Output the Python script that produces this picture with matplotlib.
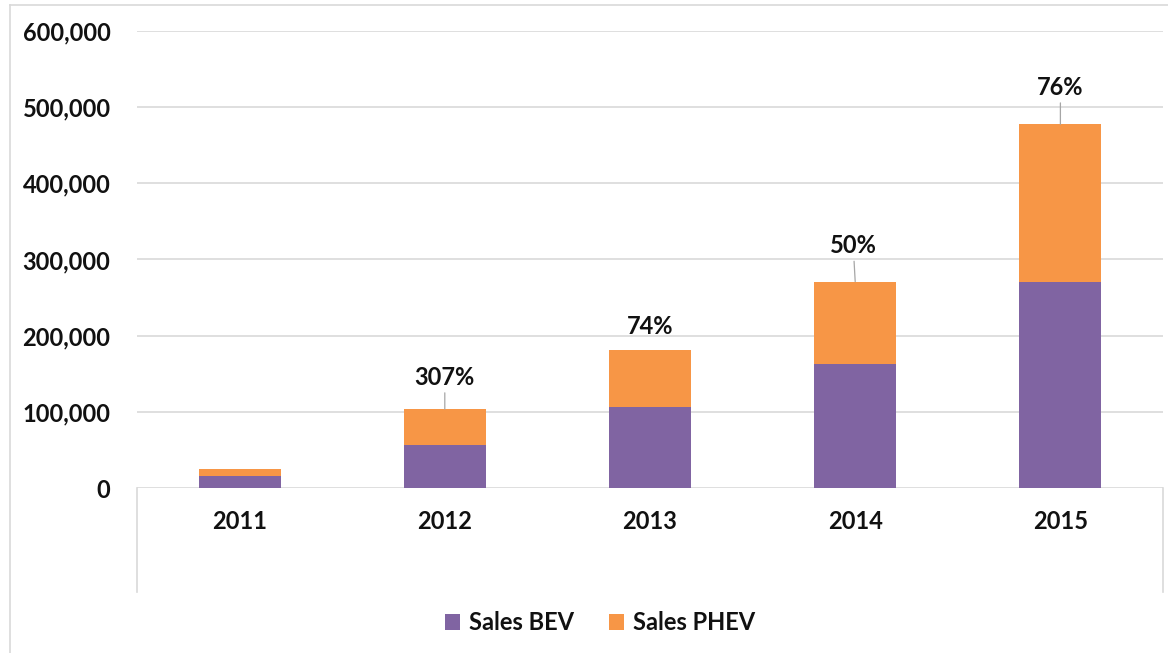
import matplotlib
matplotlib.use('Agg')
import matplotlib.pyplot as plt
import numpy as np
from matplotlib.lines import Line2D
from matplotlib.ticker import FuncFormatter

# data
years = ['2011', '2012', '2013', '2014', '2015']
sales_bev = [16200, 56600, 106200, 162700, 271000]
sales_phev = [9000, 46900, 74500, 108300, 206600]
growth_labels = ['', '307%', '74%', '50%', '76%']

plt.rcParams['font.family'] = ['Lato', 'DejaVu Sans']
plt.rcParams['font.weight'] = 'bold'

C_BEV = '#8064A2'
C_PHEV = '#F79646'
GRID = '#D9D9D9'
W, H = 1168, 653
FS = 17

fig = plt.figure(figsize=(W / 100, H / 100), dpi=100)
ax = fig.add_axes([137 / W, 1 - 488 / H, (1163 - 137) / W, (488 - 31) / H])

x = np.arange(len(years))
ax.bar(x, sales_bev, 0.4, color=C_BEV, label='Sales BEV', zorder=3)
ax.bar(x, sales_phev, 0.4, bottom=sales_bev, color=C_PHEV,
       label='Sales PHEV', zorder=3)

# growth labels above the stacks (offset in pixels, leader line or not)
label_style = [(0, 0, False), (0, 32, True), (0, 24, False),
               (-2, 36, True), (0, 37, True)]
totals = np.array(sales_bev) + np.array(sales_phev)
for xi, tot, txt, (dx, dy, leader) in zip(x, totals, growth_labels, label_style):
    if not txt:
        continue
    arrow = dict(arrowstyle='-', color='#A6A6A6', lw=0.9,
                 shrinkA=1, shrinkB=0) if leader else None
    ax.annotate(txt, xy=(xi, tot), xytext=(dx, dy), textcoords='offset pixels',
                ha='center', va='center', fontsize=FS, fontweight='bold',
                color='#111111', arrowprops=arrow, zorder=4)

ax.set_xlim(-0.5, len(years) - 0.5)
ax.set_ylim(0, 600000)
ax.set_yticks(np.arange(0, 600001, 100000))
ax.yaxis.set_major_formatter(FuncFormatter(lambda v, p: f'{int(v):,}'))
ax.set_xticks(x)
ax.set_xticklabels(years)
ax.tick_params(axis='both', length=0, labelsize=FS, labelcolor='#111111')
ax.tick_params(axis='y', pad=19)
ax.tick_params(axis='x', pad=16)
ax.grid(axis='y', color=GRID, lw=1.2, zorder=0)
for s in ax.spines.values():
    s.set_visible(False)

# category axis box sides
for xs in (0, 1):
    ax.add_line(Line2D([xs, xs], [0, -104 / 457], transform=ax.transAxes,
                       color=GRID, lw=1.2, clip_on=False))

# outer chart frame
fig.add_artist(Line2D([10 / W, 10 / W], [0, 1 - 5 / H], color='#D9D9D9', lw=1.2))
fig.add_artist(Line2D([10 / W, 1], [1 - 5 / H, 1 - 5 / H], color='#D9D9D9', lw=1.2))

leg = fig.legend(loc='center', bbox_to_anchor=(600 / W, 1 - 623 / H), ncol=2,
                 frameon=False, fontsize=FS, handlelength=0.65, handleheight=0.65,
                 handletextpad=0.35, columnspacing=1.5)
for t in leg.get_texts():
    t.set_color('#111111')

fig.savefig('out.png', dpi=100)
